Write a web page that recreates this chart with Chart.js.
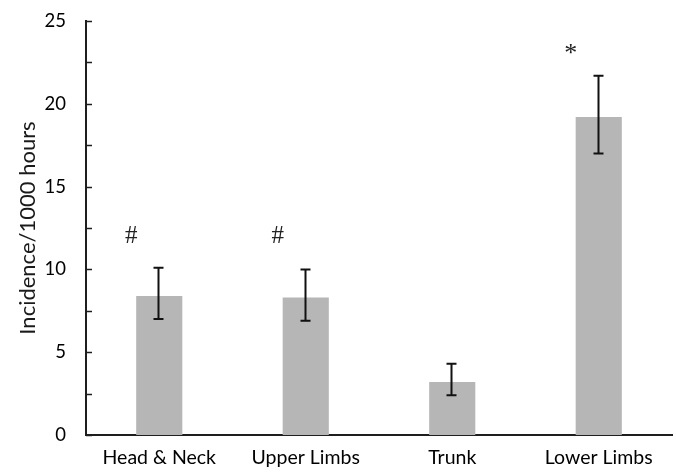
<!DOCTYPE html>
<html>
<head>
<meta charset="utf-8">
<script src="https://cdn.jsdelivr.net/npm/chart.js@4.4.0/dist/chart.umd.min.js"></script>
<style>
  html, body { margin: 0; padding: 0; background: #fff; }
  #wrap { width: 676px; height: 472px; }
</style>
</head>
<body>
<div id="wrap"><canvas id="c" width="676" height="472"></canvas></div>
<script>
// Injury incidence by body region (per 1000 hours), with error ranges
const categories = ['Head & Neck', 'Upper Limbs', 'Trunk', 'Lower Limbs'];
const incidence = [8.4, 8.3, 3.2, 19.2];
const errorLow = [7.0, 6.9, 2.4, 17.0];
const errorHigh = [10.1, 10.0, 4.3, 21.7];
const significance = ['#', '#', '', '*'];
const significanceLevel = [12.0, 12.0, null, 23.3];
const yTicks = [0, 5, 10, 15, 20, 25];

const AXIS_COLOR = '#1e1e1e';
const BAR_COLOR = '#b6b6b6';
const SANS = 'Lato, "Open Sans", sans-serif';

// Error bars, minor y ticks and significance markers
const overlay = {
  id: 'overlay',
  afterDatasetsDraw(chart) {
    const ctx = chart.ctx;
    const x = chart.scales.x, y = chart.scales.y;
    ctx.save();
    // inner tick marks every 2.5 units
    ctx.strokeStyle = AXIS_COLOR;
    ctx.lineWidth = 1.5;
    for (let v = 0; v <= yTicks[yTicks.length - 1]; v += 2.5) {
      const py = Math.round(y.getPixelForValue(v)) + 0.5;
      ctx.beginPath();
      ctx.moveTo(x.left, py);
      ctx.lineTo(x.left + 6, py);
      ctx.stroke();
    }
    // error bars
    ctx.lineWidth = 2;
    ctx.strokeStyle = '#111';
    categories.forEach((_, i) => {
      const cx = Math.round(x.getPixelForValue(i)) + 0.5 - 1;
      const top = y.getPixelForValue(errorHigh[i]);
      const bot = y.getPixelForValue(errorLow[i]);
      ctx.beginPath();
      ctx.moveTo(cx, top); ctx.lineTo(cx, bot);
      ctx.moveTo(cx - 5, top); ctx.lineTo(cx + 5, top);
      ctx.moveTo(cx - 5, bot); ctx.lineTo(cx + 5, bot);
      ctx.stroke();
    });
    // significance markers
    ctx.fillStyle = '#222';
    ctx.textAlign = 'center';
    ctx.textBaseline = 'middle';
    categories.forEach((_, i) => {
      if (!significance[i]) return;
      const px = x.getPixelForValue(i) - 28;
      const py = y.getPixelForValue(significanceLevel[i]);
      ctx.font = significance[i] === '*' ? '26px "Liberation Serif", serif' : '25px "Liberation Serif", serif';
      ctx.fillText(significance[i], px, py + (significance[i] === '*' ? 5 : 0));
    });
    ctx.restore();
  }
};

new Chart(document.getElementById('c'), {
  type: 'bar',
  data: {
    labels: categories,
    datasets: [{
      data: incidence,
      backgroundColor: BAR_COLOR,
      borderWidth: 0,
      barPercentage: 0.315,
      categoryPercentage: 1.0
    }]
  },
  options: {
    responsive: false,
    animation: false,
    devicePixelRatio: 1,
    layout: { padding: { top: 21, right: 4, left: 0, bottom: 0 } },
    plugins: { legend: { display: false }, tooltip: { enabled: false } },
    scales: {
      x: {
        offset: true,
        grid: { display: false, drawTicks: false },
        border: { display: true, color: AXIS_COLOR, width: 2 },
        ticks: { color: '#000', font: { family: SANS, size: 19.5 }, padding: 11 },
        afterFit(scale) { scale.height = 37; scale.paddingLeft = 0; scale.paddingRight = 0; }
      },
      y: {
        min: 0,
        max: 25,
        afterBuildTicks(scale) { scale.ticks = yTicks.map(v => ({ value: v })); },
        grid: { display: false, drawTicks: false },
        border: { display: true, color: AXIS_COLOR, width: 2 },
        ticks: { color: '#000', font: { family: SANS, size: 18.5 }, padding: 20 },
        title: {
          display: true,
          text: 'Incidence/1000 hours',
          color: '#1a1a1a',
          font: { family: SANS, size: 22 },
          padding: { top: 15, bottom: 0 }
        },
        afterFit(scale) { scale.width = 86; scale.paddingTop = 0; scale.paddingBottom = 0; }
      }
    }
  },
  plugins: [overlay]
});
</script>
</body>
</html>
